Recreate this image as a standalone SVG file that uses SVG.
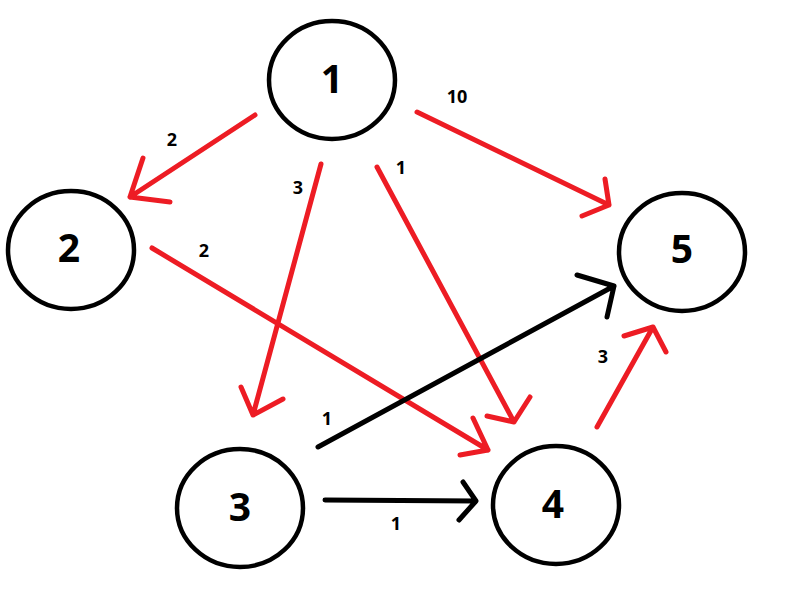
<svg xmlns="http://www.w3.org/2000/svg" width="785" height="596" viewBox="0 0 785 596">
<style>
.node{fill:none;stroke:#000;stroke-width:4.5}
.nl{font-family:"Open Sans","DejaVu Sans",sans-serif;font-weight:bold;font-size:39px;text-anchor:middle;fill:#000}
.el{font-family:"Open Sans","DejaVu Sans",sans-serif;font-weight:bold;font-size:18px;text-anchor:middle;fill:#000}
.r{fill:none;stroke:#ED1C24;stroke-width:5;stroke-linecap:round;stroke-linejoin:round}
.k{fill:none;stroke:#000;stroke-width:5;stroke-linecap:round;stroke-linejoin:round}
</style>
<rect width="785" height="596" fill="#fff"/>
<g id="connectors">
<g id="e1-2"><path class="r" d="M255,115 L130,197 M143,158 L130,197 L170,202"/></g>
<g id="e1-3"><path class="r" d="M321,164 L253,415 M241,387 L253,415 L283,399"/></g>
<g id="e1-4"><path class="r" d="M377,167 L514,422 M530,397 L514,422 L487,416"/></g>
<g id="e1-5"><path class="r" d="M417,112 L609,205 M605,179 L609,205 L582,216"/></g>
<g id="e2-4"><path class="r" d="M152,248 L488,450 M473,418 L488,450 L460,455"/></g>
<g id="e4-5"><path class="r" d="M597,427 L653,327 M624,336 L653,327 L666,352"/></g>
<g id="e3-5"><path class="k" d="M318,447 L614,286 M577,275 L614,286 L607,317"/></g>
<g id="e3-4"><path class="k" d="M325,500 L476,501 M463,482 L476,501 L459,520"/></g>
<text class="el" x="172" y="146">2</text>
<text class="el" x="298" y="194">3</text>
<text class="el" x="204" y="257">2</text>
<text class="el" x="457" y="103">10</text>
<text class="el" x="401" y="174">1</text>
<text class="el" x="603" y="363">3</text>
<text class="el" x="327" y="425">1</text>
<text class="el" x="396" y="530">1</text>
</g>
<g id="node1"><ellipse class="node" cx="332" cy="80" rx="63" ry="59"/><text class="nl" x="332" y="93">1</text></g>
<g id="node2"><ellipse class="node" cx="71" cy="250" rx="63" ry="59"/><text class="nl" x="69" y="262">2</text></g>
<g id="node3"><ellipse class="node" cx="240" cy="508" rx="63" ry="59"/><text class="nl" x="240" y="521">3</text></g>
<g id="node4"><ellipse class="node" cx="556" cy="505" rx="63" ry="59"/><text class="nl" x="553" y="518">4</text></g>
<g id="node5"><ellipse class="node" cx="682" cy="252" rx="63" ry="59"/><text class="nl" x="682" y="263">5</text></g>
</svg>
